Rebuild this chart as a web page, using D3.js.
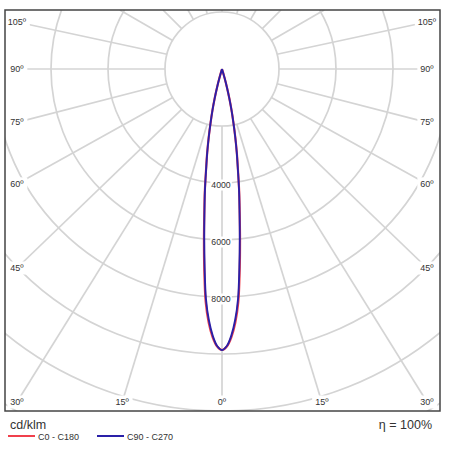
<!DOCTYPE html>
<html>
<head>
<meta charset="utf-8">
<script src="https://cdn.jsdelivr.net/npm/d3@7"></script>
<style>
  html, body { margin: 0; padding: 0; background: #fff; }
  svg { display: block; }
  text { font-family: "Liberation Sans", Arial, sans-serif; fill: #333; }
</style>
</head>
<body>
<svg id="chart" width="450" height="450"></svg>
<script>
// ---- data ----
const gammaDeg = [0, 1, 2, 3, 4, 5, 6, 7, 8, 9, 10, 11, 12, 13, 14, 15, 16, 17, 18];
const c0c180   = [9860, 9740, 9420, 8920, 8200, 7120, 6060, 5100, 4330, 3580, 3000, 2450, 1930, 1490, 1070, 680, 330, 80, 0];
const c90c270  = [9860, 9720, 9360, 8820, 8080, 6990, 5970, 5050, 4300, 3560, 2990, 2440, 1930, 1490, 1070, 680, 330, 80, 0];
const seriesNames = ["C0 - C180", "C90 - C270"];
const seriesColors = ["#f0404c", "#2a20a8"];
const ringValues = [2000, 4000, 6000, 8000, 10000, 12000, 14000];
const ringLabels = [4000, 6000, 8000];
const spokeAngles = [0, 15, 30, 45, 60, 75, 90, 105, 120, 135, 150, 165, 180];
const labeledAngles = [0, 15, 30, 45, 60, 75, 90, 105];
const unitLabel = "cd/klm";
const effLabel = "η = 100%";

// ---- layout ----
const svg = d3.select("#chart");
const frame = {x0: 5, y0: 10, x1: 440, y1: 411};
const cx = 222, cy = 69;
const r = d3.scaleLinear().domain([0, 2000]).range([0, 57]);
const rad = d => d * Math.PI / 180;
const gridColor = "#d4d4d4";

svg.append("defs").append("clipPath").attr("id", "fclip")
  .append("rect").attr("x", frame.x0).attr("y", frame.y0)
  .attr("width", frame.x1 - frame.x0).attr("height", frame.y1 - frame.y0);

const g = svg.append("g").attr("clip-path", "url(#fclip)");

// rings
g.selectAll("circle.ring").data(ringValues).enter().append("circle")
  .attr("class", "ring").attr("cx", cx).attr("cy", cy).attr("r", d => r(d))
  .attr("fill", "none").attr("stroke", gridColor).attr("stroke-width", 1.7);

// spoke end point: ray hitting an outer rectangle
const halfW = 199, downH = 350, upH = cy - frame.y0;
function rayEnd(theta) {
  const s = Math.sin(rad(theta)), c = Math.cos(rad(theta));
  let t = Infinity;
  if (Math.abs(s) > 1e-9) t = Math.min(t, halfW / Math.abs(s));
  if (c > 1e-9) t = Math.min(t, downH / c);
  if (c < -1e-9) t = Math.min(t, upH / -c);
  return [cx + t * s, cy + t * c];
}
function labelPoint(theta) {
  const p = rayEnd(theta);
  const sgn = Math.sign(Math.round(Math.sin(rad(theta)) * 1000));
  return [p[0] + sgn * 6, Math.max(22, Math.min(402, p[1]))];
}

const spokes = [];
spokeAngles.forEach(a => {
  [1, -1].forEach(side => {
    if (a === 0 && side === -1) return;
    if (a === 180 && side === -1) return;
    const th = a * side;
    const p1 = [cx + r(2000) * Math.sin(rad(th)), cy + r(2000) * Math.cos(rad(th))];
    const p2 = labeledAngles.includes(a) ? labelPoint(th) : rayEnd(th);
    spokes.push({a, th, p1, p2});
  });
});
g.selectAll("line.spoke").data(spokes).enter().append("line")
  .attr("class", "spoke")
  .attr("x1", d => d.p1[0]).attr("y1", d => d.p1[1])
  .attr("x2", d => d.p2[0]).attr("y2", d => d.p2[1])
  .attr("stroke", gridColor).attr("stroke-width", 1.7);

// curves
function curvePoints(vals) {
  const pts = [];
  for (let i = gammaDeg.length - 1; i >= 0; i--) pts.push([Math.PI + rad(gammaDeg[i]), r(vals[i])]);
  for (let i = 1; i < gammaDeg.length; i++) pts.push([Math.PI - rad(gammaDeg[i]), r(vals[i])]);
  return pts;
}
const lineR = d3.lineRadial().angle(d => d[0]).radius(d => d[1]).curve(d3.curveCatmullRom);
const curveG = svg.append("g").attr("transform", `translate(${cx},${cy})`);
[c0c180, c90c270].forEach((vals, i) => {
  curveG.append("path").attr("d", lineR(curvePoints(vals)))
    .attr("fill", "none").attr("stroke", seriesColors[i])
    .attr("stroke-width", i === 0 ? 2.2 : 1.9).attr("stroke-linejoin", "round");
});

// labels with white backgrounds
function bgLabel(parent, x, y, txt, size, pad) {
  const gg = parent.append("g");
  const t = gg.append("text").attr("x", x).attr("y", y).attr("text-anchor", "middle")
    .attr("dominant-baseline", "central").style("font-size", size + "px").text(txt);
  const bb = t.node().getBBox();
  gg.insert("rect", "text").attr("x", bb.x - pad).attr("y", bb.y - pad / 2)
    .attr("width", bb.width + 2 * pad).attr("height", bb.height + pad).attr("fill", "#fff");
}
const labG = svg.append("g");
labeledAngles.forEach(a => {
  [-1, 1].forEach(side => {
    if (a === 0 && side === 1) return;
    const p = labelPoint(a * side);
    bgLabel(labG, p[0], p[1], a + "º", 9, 3);
  });
});
ringLabels.forEach(v => {
  bgLabel(labG, cx - 1, cy + r(v) + 2, String(v), 8.7, 1);
});

// frame
svg.append("rect").attr("x", frame.x0).attr("y", frame.y0)
  .attr("width", frame.x1 - frame.x0).attr("height", frame.y1 - frame.y0)
  .attr("fill", "none").attr("stroke", "#444").attr("stroke-width", 1.5);

// legend
svg.append("text").attr("x", 10).attr("y", 429).style("font-size", "12.5px").text(unitLabel);
svg.append("text").attr("x", 432).attr("y", 429).attr("text-anchor", "end").style("font-size", "12.5px").text(effLabel);
const legX = [8, 97];
seriesNames.forEach((nm, i) => {
  svg.append("line").attr("x1", legX[i]).attr("x2", legX[i] + 27).attr("y1", 436).attr("y2", 436)
    .attr("stroke", seriesColors[i]).attr("stroke-width", 2);
  svg.append("text").attr("x", legX[i] + 30).attr("y", 439.5).style("font-size", "9px").text(nm);
});
</script>
</body>
</html>
